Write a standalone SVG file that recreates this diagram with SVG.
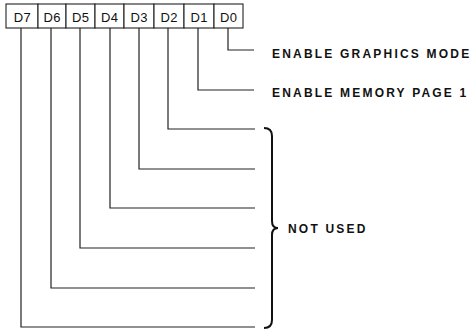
<svg xmlns="http://www.w3.org/2000/svg" width="472" height="330" viewBox="0 0 472 330">
<style>
.box{fill:#fff;stroke:#222;stroke-width:1.1}
.bit{font-family:"Liberation Sans",Arial,sans-serif;font-size:13px;fill:#111;text-anchor:middle;letter-spacing:0.5px}
.lbl{font-family:"Liberation Sans",Arial,sans-serif;font-size:12px;font-weight:bold;fill:#111;letter-spacing:2.2px}
.wire{fill:none;stroke:#222;stroke-width:1.2}
.brace{fill:none;stroke:#111;stroke-width:2}
</style>
<rect width="472" height="330" fill="#fff"/>
<g id="register">
  <g id="bit-D7"><rect class="box" x="6" y="4" width="32" height="24"/><text class="bit" x="22.5" y="21.5">D7</text></g>
  <g id="bit-D6"><rect class="box" x="38" y="4" width="28" height="24"/><text class="bit" x="52.3" y="21.5">D6</text></g>
  <g id="bit-D5"><rect class="box" x="66" y="4" width="29" height="24"/><text class="bit" x="80.8" y="21.5">D5</text></g>
  <g id="bit-D4"><rect class="box" x="95" y="4" width="29" height="24"/><text class="bit" x="109.8" y="21.5">D4</text></g>
  <g id="bit-D3"><rect class="box" x="124" y="4" width="30" height="24"/><text class="bit" x="139.3" y="21.5">D3</text></g>
  <g id="bit-D2"><rect class="box" x="154" y="4" width="30" height="24"/><text class="bit" x="169.3" y="21.5">D2</text></g>
  <g id="bit-D1"><rect class="box" x="184" y="4" width="30" height="24"/><text class="bit" x="199.3" y="21.5">D1</text></g>
  <g id="bit-D0"><rect class="box" x="214" y="4" width="29" height="24"/><text class="bit" x="228.8" y="21.5">D0</text></g>
</g>
<g id="connectors">
  <path class="wire" d="M228,28 V50 H254"/>
  <path class="wire" d="M198,28 V90 H254"/>
  <path class="wire" d="M168,28 V129 H255"/>
  <path class="wire" d="M139,28 V169 H255"/>
  <path class="wire" d="M110,28 V208 H255"/>
  <path class="wire" d="M80,28 V248 H255"/>
  <path class="wire" d="M51,28 V288 H255"/>
  <path class="wire" d="M21,28 V327 H255"/>
</g>
<g id="label-graphics"><text class="lbl" x="272" y="57.5">ENABLE GRAPHICS MODE</text></g>
<g id="label-memory"><text class="lbl" x="272" y="96.5">ENABLE MEMORY PAGE 1</text></g>
<g id="not-used">
  <path class="brace" d="M264,128 Q272,128 272,136 L272,221 Q272,228 278,228 Q272,228 272,235 L272,320 Q272,328 264,328"/>
  <text class="lbl" x="288" y="232.5">NOT USED</text>
</g>
</svg>
